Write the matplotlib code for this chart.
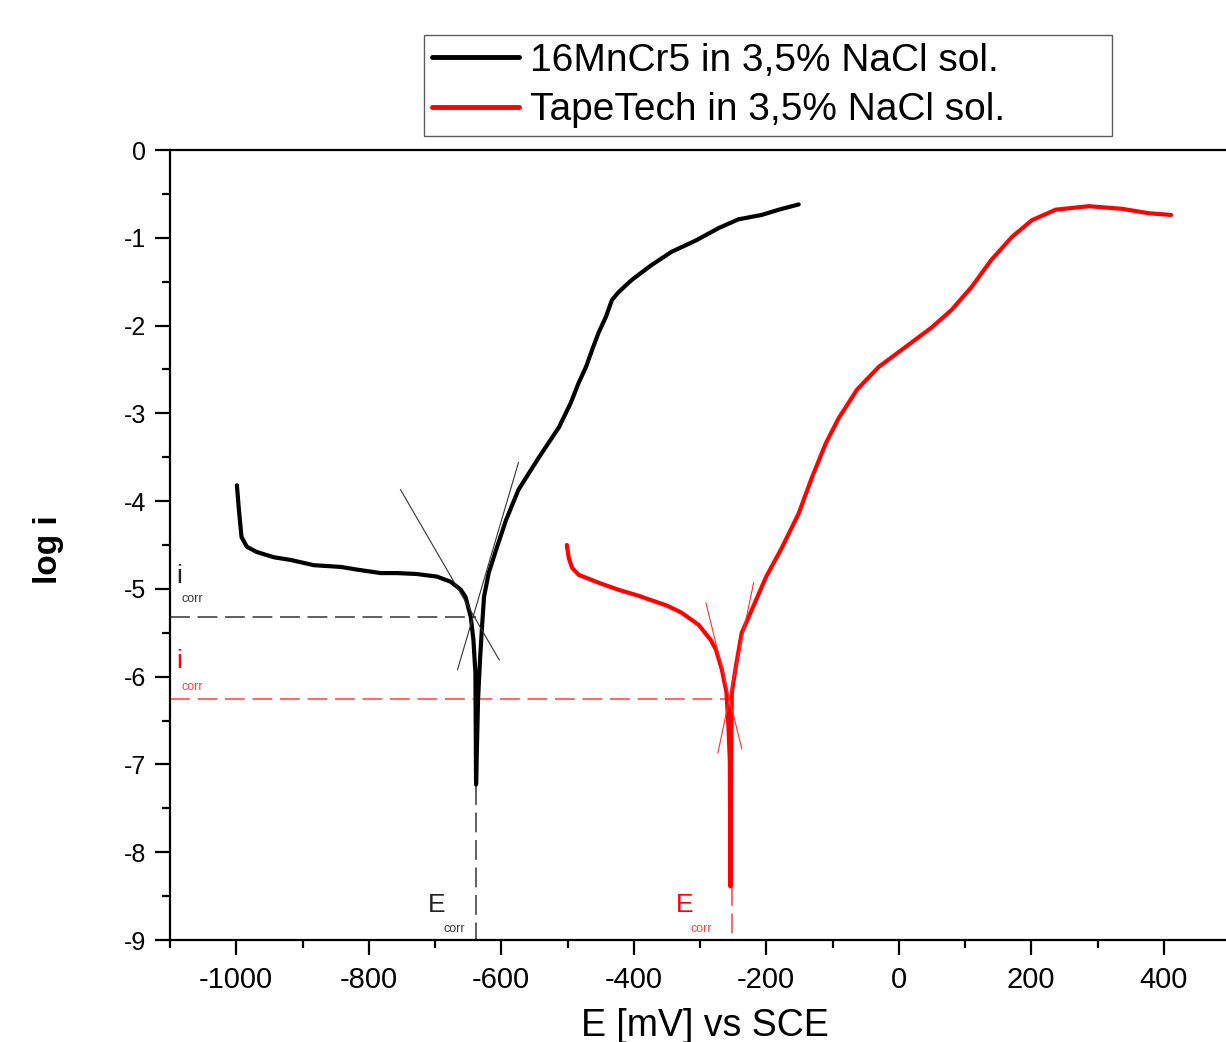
import matplotlib
matplotlib.use("Agg")
import matplotlib.pyplot as plt
from matplotlib.ticker import MultipleLocator

plt.rcParams['font.family'] = ['Liberation Sans', 'DejaVu Sans']
plt.rcParams['axes.unicode_minus'] = False

# 16MnCr5 in 3,5% NaCl
e_steel = [-999, -996, -992, -984, -969, -943, -918, -883, -842, -818, -782, -758,
           -728, -697, -676, -661, -654, -646, -642, -639, -638, -637, -635, -632,
           -629, -626, -619, -608, -593, -574, -543, -513, -495, -483, -472, -463,
           -453, -442, -433, -423, -403, -373, -343, -306, -272, -242, -207, -181,
           -151]
logi_steel = [-3.82, -4.10, -4.41, -4.52, -4.58, -4.64, -4.67, -4.73, -4.75, -4.78,
              -4.82, -4.82, -4.83, -4.86, -4.92, -5.01, -5.09, -5.32, -5.58, -5.96,
              -7.23, -6.90, -6.26, -5.80, -5.43, -5.09, -4.82, -4.56, -4.22, -3.87,
              -3.50, -3.16, -2.88, -2.65, -2.47, -2.28, -2.08, -1.90, -1.71, -1.62,
              -1.48, -1.31, -1.16, -1.03, -0.89, -0.79, -0.74, -0.68, -0.62]

# TapeTech in 3,5% NaCl
e_tape = [-501, -498, -493, -483, -453, -423, -392, -377, -350, -328, -302, -284,
          -276, -267, -260, -257, -255, -254, -253, -252, -246, -237, -219, -200,
          -177, -151, -131, -110, -91, -63, -30, 11, 50, 80, 110, 140, 171, 201,
          237, 287, 337, 377, 411]
logi_tape = [-4.50, -4.65, -4.76, -4.84, -4.93, -5.01, -5.08, -5.12, -5.19, -5.27,
             -5.41, -5.58, -5.69, -5.92, -6.18, -6.57, -6.95, -8.39, -7.00, -6.18,
             -5.89, -5.50, -5.19, -4.86, -4.54, -4.14, -3.73, -3.34, -3.06, -2.73,
             -2.47, -2.24, -2.02, -1.82, -1.56, -1.25, -0.99, -0.80, -0.68, -0.64,
             -0.67, -0.72, -0.74]

# Tafel tangents (E pairs, log i pairs)
tafel_steel = [([-752, -603], [-3.87, -5.81]), ([-574, -666], [-3.56, -5.92])]
tafel_tape = [([-291, -237], [-5.16, -6.82]), ([-219, -273], [-4.93, -6.87])]

ecorr_steel, icorr_steel = -638, -5.32
ecorr_tape, icorr_tape = -252, -6.26
e_bottom_steel = -7.23
e_bottom_tape = -8.39

fig = plt.figure(figsize=(12.26, 10.42), dpi=100)
ax = fig.add_axes([170 / 1226, 102 / 1042, 1060 / 1226, 790 / 1042])

ax.set_xlim(-1100, 500)
ax.set_ylim(-9, 0)

# corrosion guide lines
ax.plot([-1100, ecorr_steel], [icorr_steel, icorr_steel], color='#333333', lw=1.1,
        dashes=(13, 5))
ax.plot([ecorr_steel, ecorr_steel], [e_bottom_steel, -9], color='#333333', lw=1.1,
        dashes=(13, 5))
ax.plot([-1100, ecorr_tape], [icorr_tape, icorr_tape], color='#ff4040', lw=1.1,
        dashes=(13, 5))
ax.plot([ecorr_tape, ecorr_tape], [e_bottom_tape, -9], color='#ff4040', lw=1.1,
        dashes=(13, 5))

l1, = ax.plot(e_steel, logi_steel, color='black', lw=3.0, solid_joinstyle='round',
              solid_capstyle='round', label='16MnCr5 in 3,5% NaCl sol.')
l2, = ax.plot(e_tape, logi_tape, color='red', lw=3.0, solid_joinstyle='round',
              solid_capstyle='round', label='TapeTech in 3,5% NaCl sol.')

for xs, ys in tafel_steel:
    ax.plot(xs, ys, color='#333333', lw=0.8)
for xs, ys in tafel_tape:
    ax.plot(xs, ys, color='#ff3030', lw=0.8)

# annotations
ax.text(-1090, -4.85, 'i', fontsize=19, color='#222222', ha='left', va='center')
ax.text(-1083, -5.12, 'corr', fontsize=9, color='#333333', ha='left', va='center')
ax.text(-1090, -5.82, 'i', fontsize=19, color='red', ha='left', va='center')
ax.text(-1083, -6.12, 'corr', fontsize=9, color='#ff4040', ha='left', va='center')
ax.text(-710, -8.6, 'E', fontsize=19, color='#222222', ha='left', va='center')
ax.text(-687, -8.88, 'corr', fontsize=9, color='#333333', ha='left', va='center')
ax.text(-337, -8.6, 'E', fontsize=19, color='red', ha='left', va='center')
ax.text(-314, -8.88, 'corr', fontsize=9, color='#ff4040', ha='left', va='center')

ax.xaxis.set_minor_locator(MultipleLocator(100))
ax.yaxis.set_minor_locator(MultipleLocator(0.5))
ax.set_xticks([-1000, -800, -600, -400, -200, 0, 200, 400])
ax.set_yticks(range(-9, 1))

ax.tick_params(which='major', direction='out', length=11, width=1.6)
ax.tick_params(which='minor', direction='out', length=6, width=1.6)
ax.tick_params(axis='x', labelsize=21, pad=8)
ax.tick_params(axis='y', labelsize=18, pad=6)
for s in ['left', 'bottom', 'top']:
    ax.spines[s].set_linewidth(1.6)
ax.spines['right'].set_visible(False)

ax.set_xlabel('E [mV] vs SCE', fontsize=27, va='baseline')
ax.xaxis.set_label_coords(0.505, -0.122)
ax.set_ylabel('log i', fontsize=24, fontweight='bold')
ax.yaxis.set_label_coords(-0.100, 0.494)

leg = ax.legend(handles=[l1, l2], loc='upper left', mode='expand',
                bbox_to_anchor=(424 / 1226, 1 - 138 / 1042, 688 / 1226, 103 / 1042),
                bbox_transform=fig.transFigure,
                borderaxespad=0, fontsize=28, frameon=True, fancybox=False,
                handlelength=2.25, handletextpad=0.28, borderpad=0.2, labelspacing=0.35)
leg.get_frame().set_edgecolor('#333333')
leg.get_frame().set_linewidth(1.0)
for h in leg.get_lines():
    h.set_linewidth(3.5)

fig.savefig('out.png', dpi=100)
